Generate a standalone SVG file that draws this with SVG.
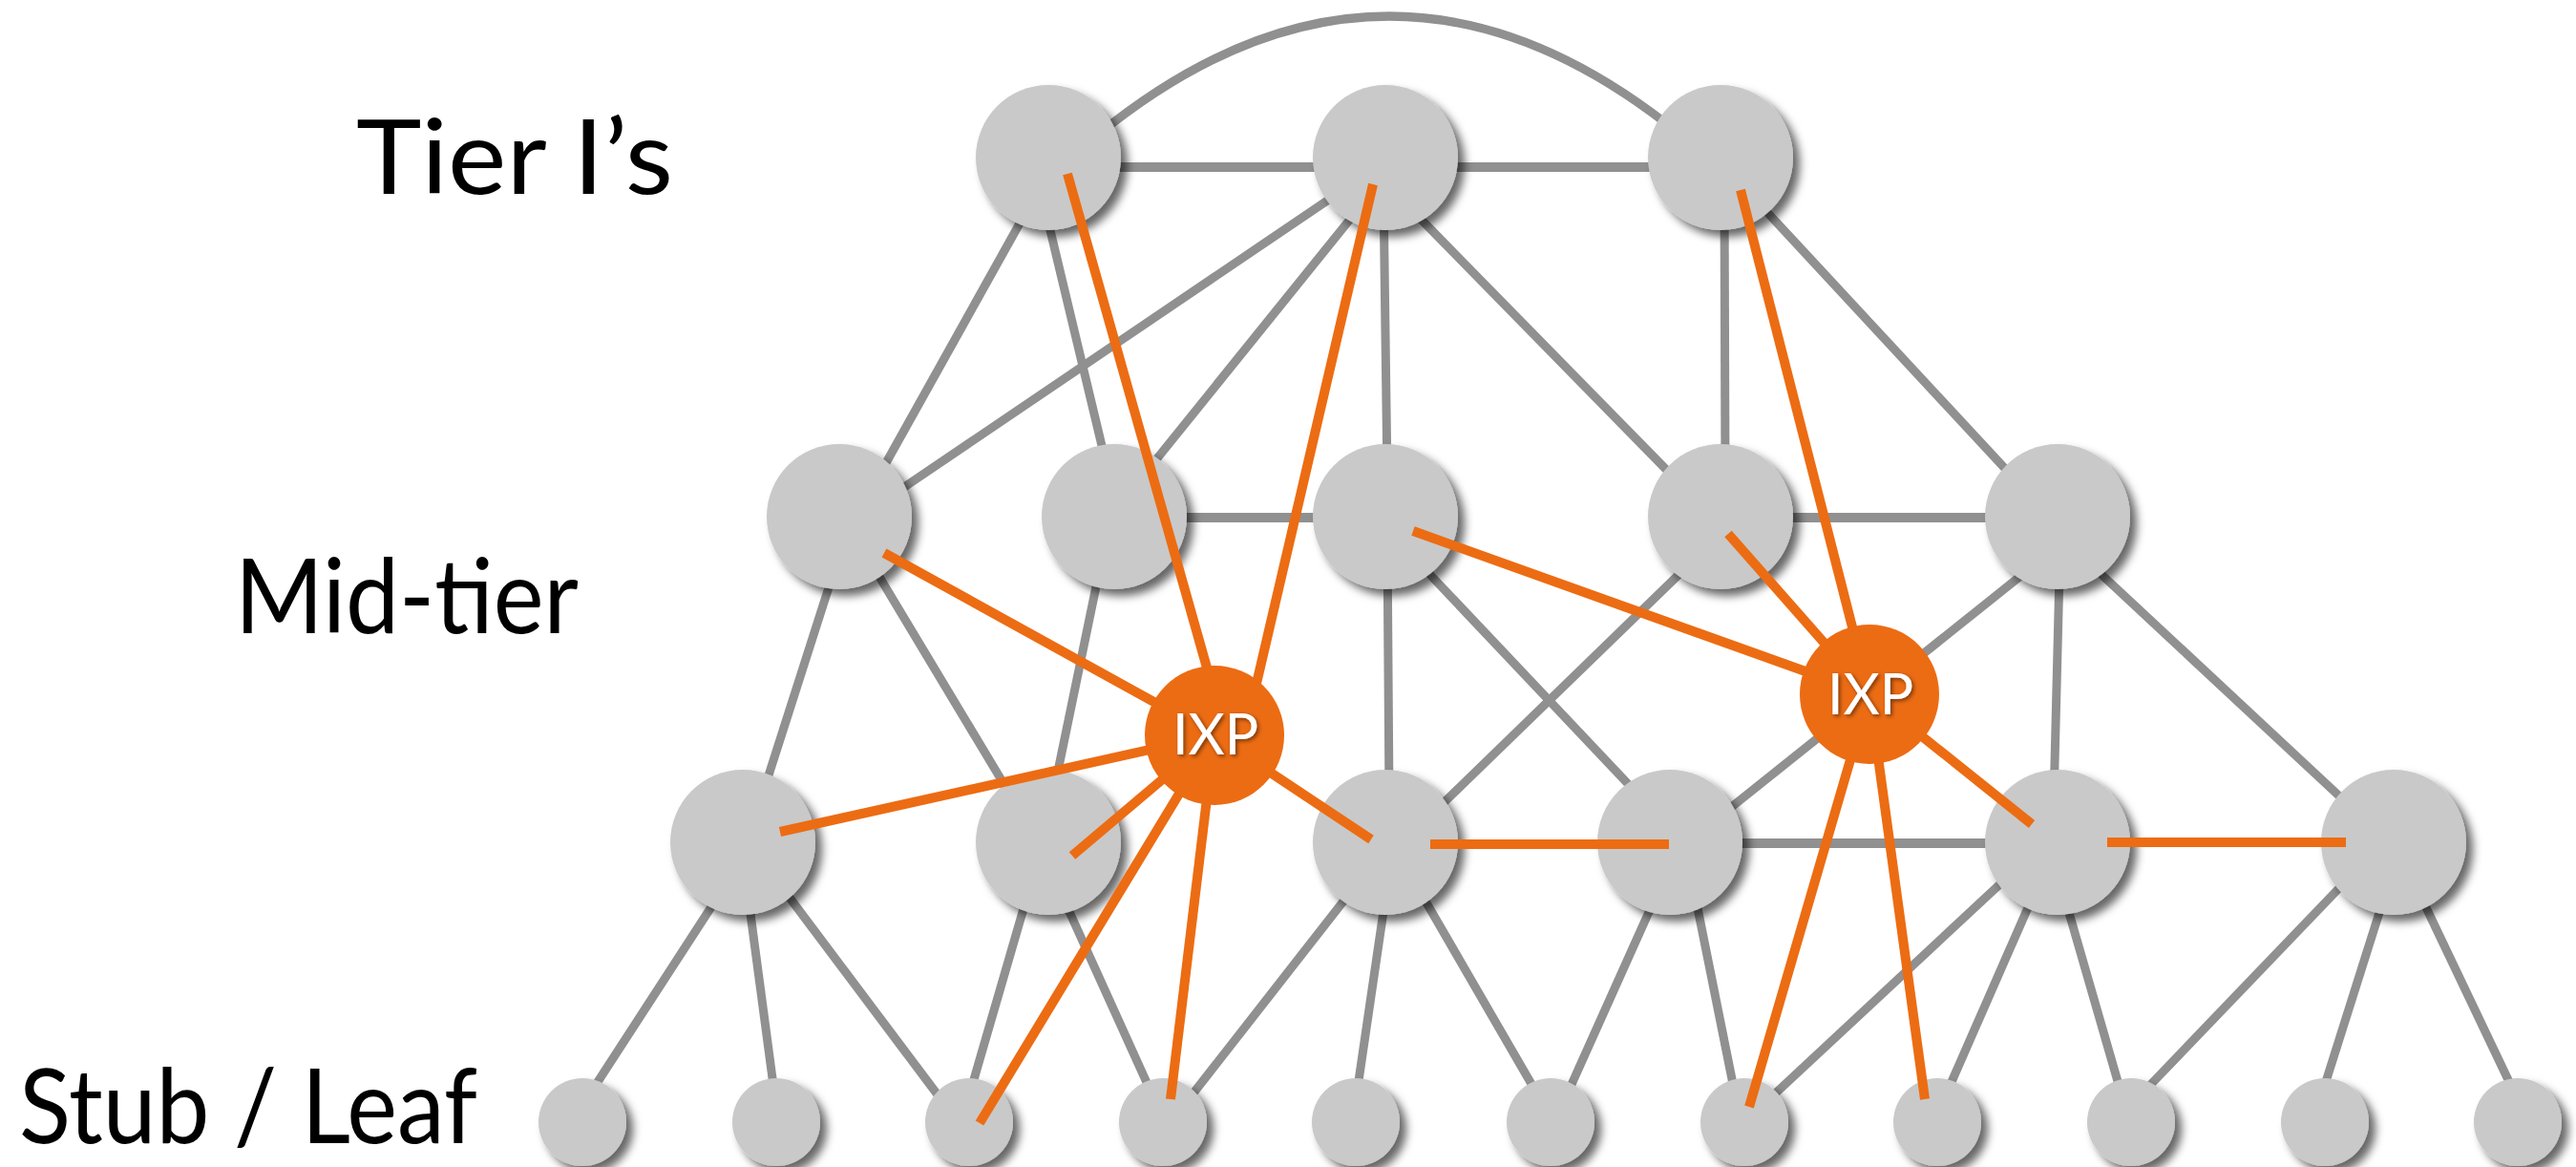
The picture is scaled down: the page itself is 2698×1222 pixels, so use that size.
<svg xmlns="http://www.w3.org/2000/svg" width="2698" height="1222" viewBox="0 0 2698 1222">
<defs>
<style>
.g{stroke:#909090;stroke-width:9;fill:none}
.gh{stroke:#909090;stroke-width:10;fill:none}
.o{stroke:#ec6c13;stroke-width:10;fill:none}
.n{fill:#c9c9c9;filter:url(#sh)}
.x{fill:#ec6c13}
.lbl{font-family:Lato,"Liberation Sans",sans-serif;font-size:109px;fill:#000}
.ixt{font-family:Lato,"Liberation Sans",sans-serif;font-size:60px;fill:#fff;text-anchor:middle;filter:url(#tsh)}
</style>
<filter id="sh" x="-30%" y="-30%" width="160%" height="160%">
<feDropShadow dx="7" dy="7" stdDeviation="5" flood-color="#000" flood-opacity="0.6"/>
</filter>
<filter id="tsh" x="-20%" y="-20%" width="140%" height="140%">
<feDropShadow dx="2" dy="2" stdDeviation="2" flood-color="#000" flood-opacity="0.5"/>
</filter>
</defs>
<rect width="2698" height="1222" fill="#fff"/>
<g id="labels">
<text class="lbl" x="373" y="203" textLength="332" lengthAdjust="spacingAndGlyphs">Tier I’s</text>
<text class="lbl" x="246" y="663" textLength="360" lengthAdjust="spacingAndGlyphs">Mid-tier</text>
<text class="lbl" x="20" y="1197" font-size="105" textLength="480" lengthAdjust="spacingAndGlyphs">Stub / Leaf</text>
</g>
<g id="connectors-gray">
<path class="g" d="M1150,141 Q1455,-107 1760,141"/>
<line class="gh" x1="1110" y1="175" x2="1440" y2="175"/>
<line class="gh" x1="1460" y1="175" x2="1790" y2="175"/>
<line class="g" x1="1083" y1="207" x2="915" y2="508"/>
<line class="g" x1="1093" y1="212" x2="1161" y2="496"/>
<line class="g" x1="1433" y1="181" x2="922" y2="527"/>
<line class="g" x1="1433" y1="206" x2="1195" y2="501"/>
<line class="g" x1="1449" y1="200" x2="1453" y2="500"/>
<line class="g" x1="1471" y1="212" x2="1766" y2="513"/>
<line class="g" x1="1806" y1="200" x2="1807" y2="500"/>
<line class="g" x1="1833" y1="203" x2="2118" y2="510"/>
<line class="gh" x1="1180" y1="542" x2="1440" y2="542"/>
<line class="gh" x1="1815" y1="542" x2="2140" y2="542"/>
<line class="g" x1="885" y1="562" x2="796" y2="840"/>
<line class="g" x1="894" y1="559" x2="1061" y2="837"/>
<line class="g" x1="1159" y1="561" x2="1105" y2="822"/>
<line class="g" x1="1453" y1="560" x2="1455" y2="840"/>
<line class="g" x1="1464" y1="566" x2="1728" y2="845"/>
<line class="g" x1="1793" y1="568" x2="1491" y2="861"/>
<line class="g" x1="2154" y1="573" x2="1791" y2="863"/>
<line class="g" x1="2158" y1="560" x2="2151" y2="840"/>
<line class="g" x1="2166" y1="569" x2="2472" y2="854"/>
<line class="gh" x1="1760" y1="883" x2="2140" y2="883"/>
<line class="g" x1="761" y1="925" x2="611" y2="1156"/>
<line class="g" x1="782" y1="927" x2="813" y2="1159"/>
<line class="g" x1="809" y1="916" x2="999" y2="1169"/>
<line class="g" x1="1080" y1="924" x2="1012" y2="1158"/>
<line class="g" x1="1107" y1="926" x2="1213" y2="1160"/>
<line class="g" x1="1424" y1="922" x2="1234" y2="1165"/>
<line class="g" x1="1453" y1="927" x2="1419" y2="1159"/>
<line class="g" x1="1477" y1="916" x2="1619" y2="1161"/>
<line class="g" x1="1740" y1="926" x2="1635" y2="1160"/>
<line class="g" x1="1772" y1="921" x2="1820" y2="1160"/>
<line class="g" x1="2116" y1="906" x2="1840" y2="1163"/>
<line class="g" x1="2136" y1="923" x2="2033" y2="1158"/>
<line class="g" x1="2159" y1="928" x2="2226" y2="1160"/>
<line class="g" x1="2471" y1="908" x2="2232" y2="1157"/>
<line class="g" x1="2502" y1="924" x2="2428" y2="1158"/>
<line class="g" x1="2528" y1="923" x2="2640" y2="1158"/>
</g>
<g id="node-t1"><circle class="n" cx="1098" cy="165" r="76"/></g>
<g id="node-t2"><circle class="n" cx="1451" cy="165" r="76"/></g>
<g id="node-t3"><circle class="n" cx="1802" cy="165" r="76"/></g>
<g id="node-m1"><circle class="n" cx="879" cy="541" r="76"/></g>
<g id="node-m2"><circle class="n" cx="1167" cy="541" r="76"/></g>
<g id="node-m3"><circle class="n" cx="1451" cy="541" r="76"/></g>
<g id="node-m4"><circle class="n" cx="1802" cy="541" r="76"/></g>
<g id="node-m5"><circle class="n" cx="2155" cy="541" r="76"/></g>
<g id="node-r1"><circle class="n" cx="778" cy="882" r="76"/></g>
<g id="node-r2"><circle class="n" cx="1098" cy="882" r="76"/></g>
<g id="node-r3"><circle class="n" cx="1451" cy="882" r="76"/></g>
<g id="node-r4"><circle class="n" cx="1749" cy="882" r="76"/></g>
<g id="node-r5"><circle class="n" cx="2155" cy="882" r="76"/></g>
<g id="node-r6"><circle class="n" cx="2507" cy="882" r="76"/></g>
<g id="node-b1"><circle class="n" cx="610" cy="1175" r="46"/></g>
<g id="node-b2"><circle class="n" cx="813" cy="1175" r="46"/></g>
<g id="node-b3"><circle class="n" cx="1015" cy="1175" r="46"/></g>
<g id="node-b4"><circle class="n" cx="1218" cy="1175" r="46"/></g>
<g id="node-b5"><circle class="n" cx="1420" cy="1175" r="46"/></g>
<g id="node-b6"><circle class="n" cx="1624" cy="1175" r="46"/></g>
<g id="node-b7"><circle class="n" cx="1827" cy="1175" r="46"/></g>
<g id="node-b8"><circle class="n" cx="2029" cy="1175" r="46"/></g>
<g id="node-b9"><circle class="n" cx="2232" cy="1175" r="46"/></g>
<g id="node-b10"><circle class="n" cx="2435" cy="1175" r="46"/></g>
<g id="node-b11"><circle class="n" cx="2637" cy="1175" r="46"/></g>
<g id="connectors-orange">
<line class="o" x1="1118" y1="182" x2="1284" y2="770"/>
<line class="o" x1="1438" y1="193" x2="1301" y2="780"/>
<line class="o" x1="926" y1="579" x2="1272" y2="770"/>
<line class="o" x1="817" y1="871" x2="1272" y2="770"/>
<line class="o" x1="1123" y1="896" x2="1272" y2="770"/>
<line class="o" x1="1436" y1="879" x2="1272" y2="770"/>
<line class="o" x1="1026" y1="1176" x2="1272" y2="770"/>
<line class="o" x1="1226" y1="1151" x2="1272" y2="770"/>
<line class="o" x1="1823" y1="199" x2="1958" y2="727"/>
<line class="o" x1="1480" y1="556" x2="1958" y2="727"/>
<line class="o" x1="1810" y1="559" x2="1958" y2="727"/>
<line class="o" x1="2128" y1="863" x2="1958" y2="727"/>
<line class="o" x1="1832" y1="1159" x2="1958" y2="727"/>
<line class="o" x1="2016" y1="1151" x2="1958" y2="727"/>
<line class="o" x1="1498" y1="884" x2="1748" y2="884"/>
<line class="o" x1="2207" y1="882" x2="2457" y2="882"/>
</g>
<g id="node-ixp1">
<circle class="x" cx="1272" cy="770" r="73"/>
<text class="ixt" x="1273" y="790" textLength="90" lengthAdjust="spacingAndGlyphs">IXP</text>
</g>
<g id="node-ixp2">
<circle class="x" cx="1958" cy="727" r="73"/>
<text class="ixt" x="1959" y="748" textLength="90" lengthAdjust="spacingAndGlyphs">IXP</text>
</g>
</svg>
